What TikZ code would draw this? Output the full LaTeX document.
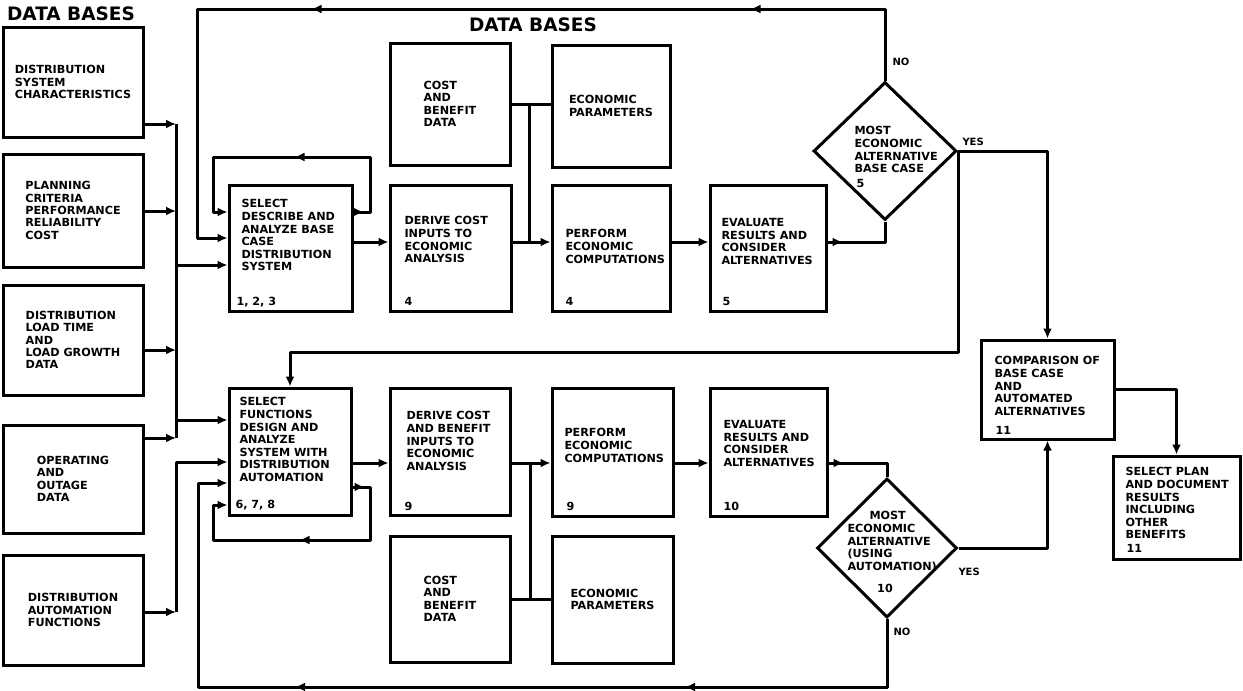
\documentclass[tikz,border=0pt]{standalone}
\usepackage{fontspec}
\setmainfont{DejaVu Sans}
\usetikzlibrary{arrows.meta,shapes.geometric,decorations.markings}

\begin{document}
\begin{tikzpicture}[
    x=1pt, y=-1pt,
    line width=3pt,
    data/.style={draw, line width=3pt, align=left, font=\fontsize{11.2}{12.4}\selectfont\bfseries, inner sep=0pt},
    proc/.style={draw, line width=3pt, inner sep=0pt},
    dec/.style={draw, diamond, line width=3pt, inner sep=0pt},
    txt/.style={align=left, font=\fontsize{11.2}{12.6}\selectfont\bfseries, inner sep=0pt, anchor=north west},
    num/.style={font=\fontsize{11.2}{12.6}\selectfont\bfseries, inner sep=0pt, anchor=base west},
    head/.style={font=\fontsize{18.5}{20}\selectfont\bfseries, inner sep=0pt},
    lbl/.style={font=\fontsize{10}{12}\selectfont\bfseries, inner sep=0pt, anchor=west},
    ln/.style={line width=3pt, line join=round},
    arr/.style={ln, -{Latex[length=10pt,width=9pt]}},
    midarr/.style={postaction={decorate, decoration={markings, mark=at position #1 with {\arrow{Latex[length=10pt,width=9pt]}}}}}
]
\useasboundingbox (0,0) rectangle (1243,691);

\node[head] (hd1) at (71,14) {DATA BASES};
\node[head] (hd2) at (533,25) {DATA BASES};

\node[data, minimum width=140pt, minimum height=110pt] (L1) at (73,82) {DISTRIBUTION\\SYSTEM\\CHARACTERISTICS};
\node[data, minimum width=140pt, minimum height=113pt] (L2) at (73,210.5) {PLANNING\\CRITERIA\\PERFORMANCE\\RELIABILITY\\COST};
\node[data, minimum width=140pt, minimum height=110pt] (L3) at (73,340) {DISTRIBUTION\\LOAD TIME\\AND\\LOAD GROWTH\\DATA};
\node[data, minimum width=140pt, minimum height=108pt] (L4) at (73,479) {OPERATING\\AND\\OUTAGE\\DATA};
\node[data, minimum width=140pt, minimum height=110pt] (L5) at (73,610) {DISTRIBUTION\\AUTOMATION\\FUNCTIONS};

\node[proc, minimum width=123pt, minimum height=126pt] (A) at (290.5,248) {};
\node[txt] (At) at (240,198) {SELECT\\DESCRIBE AND\\ANALYZE BASE\\CASE\\DISTRIBUTION\\SYSTEM};
\node[num] (An) at (235,305) {1, 2, 3};
\node[proc, minimum width=121pt, minimum height=126pt] (B) at (450.5,248) {};
\node[txt] (Bt) at (403,215) {DERIVE COST\\INPUTS TO\\ECONOMIC\\ANALYSIS};
\node[num] (Bn) at (403,305) {4};
\node[data, minimum width=120pt, minimum height=122pt] (C) at (450,104) {COST\\AND\\BENEFIT\\DATA};
\node[data, minimum width=118pt, minimum height=122pt] (D) at (611,106) {ECONOMIC\\PARAMETERS};
\node[proc, minimum width=118pt, minimum height=126pt] (E) at (611,248) {};
\node[txt] (Et) at (564,228) {PERFORM\\ECONOMIC\\COMPUTATIONS};
\node[num] (En) at (564,305) {4};
\node[proc, minimum width=116pt, minimum height=126pt] (F) at (768,248) {};
\node[txt] (Ft) at (720,217) {EVALUATE\\RESULTS AND\\CONSIDER\\ALTERNATIVES};
\node[num] (Fn) at (721,305) {5};
\node[dec, minimum width=143pt, minimum height=138pt] (D1) at (885,151) {};
\node[txt] (D1t) at (853,125) {MOST\\ECONOMIC\\ALTERNATIVE\\BASE CASE};
\node[num] (D1n) at (855,187) {5};

\node[proc, minimum width=133pt, minimum height=99pt] (M) at (1047.5,389.5) {};
\node[txt] (Mt) at (993,355) {COMPARISON OF\\BASE CASE\\AND\\AUTOMATED\\ALTERNATIVES};
\node[num] (Mn) at (994,434) {11};
\node[proc, minimum width=127pt, minimum height=103pt] (N) at (1176.5,507.5) {};
\node[txt] (Nt) at (1124,466) {SELECT PLAN\\AND DOCUMENT\\RESULTS\\INCLUDING\\OTHER\\BENEFITS};
\node[num] (Nn) at (1125,552) {11};

\node[proc, minimum width=122pt, minimum height=127pt] (G) at (290,451.5) {};
\node[txt] (Gt) at (238,396) {SELECT\\FUNCTIONS\\DESIGN AND\\ANALYZE\\SYSTEM WITH\\DISTRIBUTION\\AUTOMATION};
\node[num] (Gn) at (234,508) {6, 7, 8};
\node[proc, minimum width=120pt, minimum height=127pt] (H) at (450,451.5) {};
\node[txt] (Ht) at (405,410) {DERIVE COST\\AND BENEFIT\\INPUTS TO\\ECONOMIC\\ANALYSIS};
\node[num] (Hn) at (403,510) {9};
\node[data, minimum width=120pt, minimum height=126pt] (I) at (450,599) {COST\\AND\\BENEFIT\\DATA};
\node[proc, minimum width=121pt, minimum height=128pt] (J) at (612.5,452) {};
\node[txt] (Jt) at (563,427) {PERFORM\\ECONOMIC\\COMPUTATIONS};
\node[num] (Jn) at (565,510) {9};
\node[data, minimum width=121pt, minimum height=127pt] (K) at (612.5,599.5) {ECONOMIC\\PARAMETERS};
\node[proc, minimum width=117pt, minimum height=128pt] (L) at (768.5,452) {};
\node[txt] (Lt) at (722,419) {EVALUATE\\RESULTS AND\\CONSIDER\\ALTERNATIVES};
\node[num] (Ln) at (722,510) {10};
\node[dec, minimum width=140pt, minimum height=139pt] (D2) at (887,548) {};
\node[txt] (D2t) at (846,510) {\hspace*{22pt}MOST\\ECONOMIC\\ALTERNATIVE\\(USING\\AUTOMATION)};
\node[num, anchor=center] (D2n) at (885,588) {10};

\node[lbl] (no1) at (891,62) {NO};
\node[lbl] (yes1) at (961,142) {YES};
\node[lbl] (no2) at (892,632) {NO};
\node[lbl] (yes2) at (957,572) {YES};

\coordinate (b1) at (176,124);
\coordinate (b2) at (176,211);
\coordinate (b3) at (176,350);
\coordinate (b4) at (176,438);
\coordinate (b5) at (176,612);
\coordinate (b6) at (176,462);
\coordinate (bA) at (176,265);
\coordinate (bG) at (176,420);
\coordinate (rowA) at (0,242);
\coordinate (rowG) at (0,463);
\coordinate (fb1) at (885,9);
\coordinate (fb2) at (197,9);
\coordinate (fb3) at (197,238);
\coordinate (la1) at (370,212);
\coordinate (la2) at (370,157);
\coordinate (la3) at (213,157);
\coordinate (la4) at (213,212);
\coordinate (jt) at (529,104);
\coordinate (dg) at (290,352);
\coordinate (jb) at (530,599);
\coordinate (nb1) at (887,687);
\coordinate (nb2) at (198,687);
\coordinate (nb3) at (198,483);
\coordinate (lg1) at (370,487);
\coordinate (lg2) at (370,540);
\coordinate (lg3) at (213,540);
\coordinate (lg4) at (213,505);

\draw[arr] (L1.east |- b1) -- (b1);
\draw[arr] (L2.east |- b2) -- (b2);
\draw[arr] (L3.east |- b3) -- (b3);
\draw[arr] (L4.east |- b4) -- (b4);
\draw[arr] (L5.east |- b5) -- (b5);
\draw[ln] (b1) -- (b4);
\draw[arr] (bA) -- (A.west |- bA);
\draw[arr] (bG) -- (G.west |- bG);
\draw[arr] (b5) -- (b6) -- (G.west |- b6);

\draw[arr, midarr=206pt, midarr=645pt] (D1.north) -- (fb1) -- (fb2) -- (fb3) -- (A.west |- fb3);
\draw[arr, midarr=10pt, midarr=147pt] (A.east |- la1) -- (la1) -- (la2) -- (la3) -- (la4) -- (A.west |- la4);
\draw[arr] (A.east |- rowA) -- (B.west |- rowA);
\draw[arr] (B.east |- rowA) -- (E.west |- rowA);
\draw[arr] (E.east |- rowA) -- (F.west |- rowA);
\draw[ln] (C.east) -- (C.east -| D.west);
\draw[ln] (jt) -- (jt |- rowA);
\draw[ln, midarr=15pt] (F.east |- rowA) -| (D1.south);
\draw[arr] (D1.east) -| (M.north);
\draw[arr] (D1.east) |- (dg) -- (G.north);

\draw[arr] (G.east |- rowG) -- (H.west |- rowG);
\draw[arr] (H.east |- rowG) -- (J.west |- rowG);
\draw[arr] (J.east |- rowG) -- (L.west |- rowG);
\draw[ln] (I.east) -- (I.east -| K.west);
\draw[ln] (jb) -- (jb |- rowG);
\draw[ln, midarr=15pt] (L.east |- rowG) -| (D2.north);
\draw[arr] (D2.east) -| (M.south);
\draw[arr, midarr=270pt, midarr=660pt] (D2.south) -- (nb1) -- (nb2) -- (nb3) -- (G.west |- nb3);
\draw[arr, midarr=12pt, midarr=141pt] (G.east |- lg1) -- (lg1) -- (lg2) -- (lg3) -- (lg4) -- (G.west |- lg4);
\draw[arr] (M.east) -| (N.north);
\end{tikzpicture}
\end{document}
